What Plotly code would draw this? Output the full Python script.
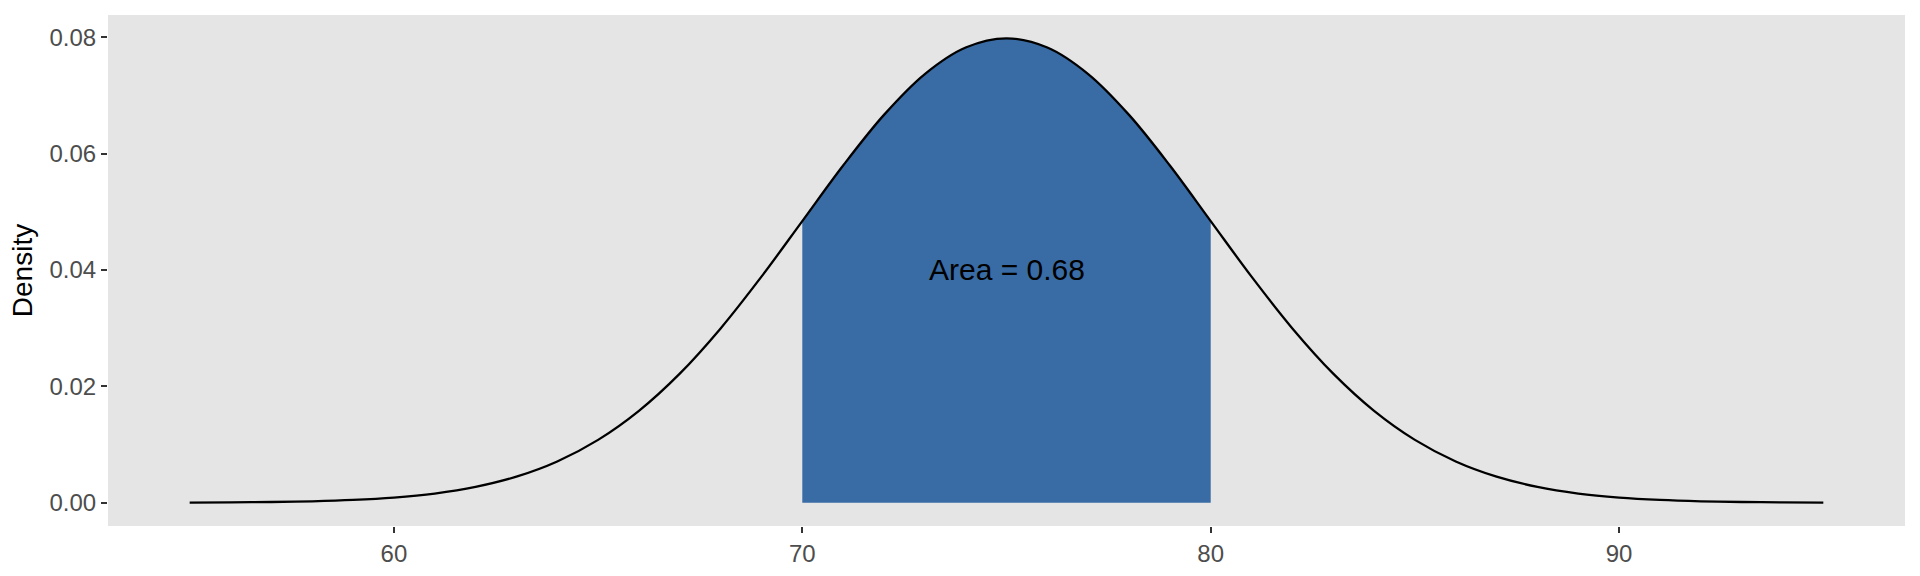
import plotly.graph_objects as go

# Density curve values (x = 55..95, step 1)
x_vals = list(range(55, 96))
density = [
    0.0000268, 0.0000584, 0.000122, 0.000246, 0.000477, 0.000886, 0.00158, 0.00272,
    0.00448, 0.00709, 0.01080, 0.01579, 0.02218, 0.02995, 0.03884, 0.04839,
    0.05794, 0.06664, 0.07365, 0.07821, 0.07979, 0.07821, 0.07365, 0.06664,
    0.05794, 0.04839, 0.03884, 0.02995, 0.02218, 0.01579, 0.01080, 0.00709,
    0.00448, 0.00272, 0.00158, 0.000886, 0.000477, 0.000246, 0.000122, 0.0000584,
    0.0000268,
]
shade_lo, shade_hi = 70, 80
area_label = "Area = 0.68"
label_x, label_y = 75, 0.04
x_ticks = [60, 70, 80, 90]
y_ticks = [0.00, 0.02, 0.04, 0.06, 0.08]

shade_x = [x for x in x_vals if shade_lo <= x <= shade_hi]
shade_y = [d for x, d in zip(x_vals, density) if shade_lo <= x <= shade_hi]

FONT = "Liberation Sans, Arial, sans-serif"

fig = go.Figure()
fig.add_trace(go.Scatter(
    x=shade_x, y=shade_y, mode="lines", fill="tozeroy",
    fillcolor="#396CA5", line=dict(color="#396CA5", width=0, shape="spline"),
    hoverinfo="skip", showlegend=False,
))
fig.add_trace(go.Scatter(
    x=x_vals, y=density, mode="lines",
    line=dict(color="black", width=2.3, shape="spline"),
    showlegend=False,
))
fig.add_annotation(
    x=label_x, y=label_y, text=area_label, showarrow=False,
    font=dict(family=FONT, size=30, color="black"),
)

axis_font = dict(family=FONT, size=24, color="#4D4D4D")
fig.update_layout(
    width=1920, height=576,
    margin=dict(l=108, r=15, t=15, b=50),
    paper_bgcolor="white", plot_bgcolor="#E5E5E5",
    font=dict(family=FONT),
    xaxis=dict(
        range=[53, 97], tickvals=x_ticks, ticktext=[str(t) for t in x_ticks],
        showgrid=False, zeroline=False, showline=False, automargin=False,
        ticks="outside", ticklen=6, tickwidth=2, tickcolor="#333333",
        tickfont=axis_font,
    ),
    yaxis=dict(
        range=[-0.004, 0.0838], tickvals=y_ticks, ticktext=[f"{t:.2f}" for t in y_ticks],
        showgrid=False, zeroline=False, showline=False, automargin=False,
        ticks="outside", ticklen=6, tickwidth=2, tickcolor="#333333",
        tickfont=axis_font,
        title=dict(text="Density", font=dict(family=FONT, size=28, color="black"), standoff=8),
    ),
)

fig.write_html(
    "out.html",
    config={"displayModeBar": False},
    post_script="document.body.style.margin='0';document.body.style.overflow='hidden';",
)
